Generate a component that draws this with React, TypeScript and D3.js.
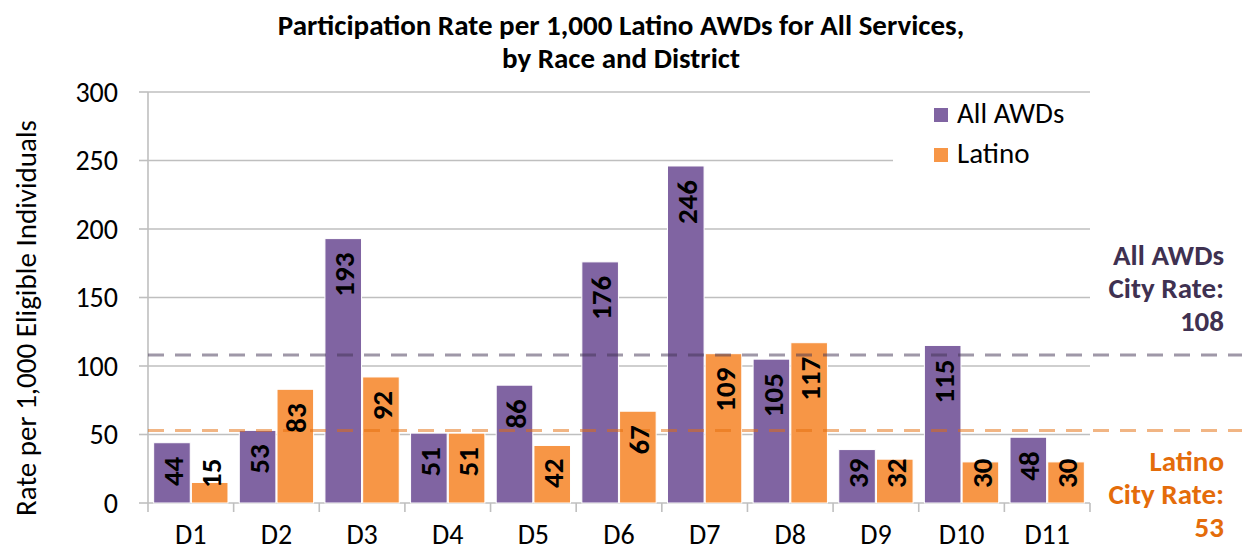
import React from 'react';
import { scaleBand, scaleLinear } from 'd3';

const districts = ['D1', 'D2', 'D3', 'D4', 'D5', 'D6', 'D7', 'D8', 'D9', 'D10', 'D11'];
const seriesNames = ['All AWDs', 'Latino'];
const allAwds = [44, 53, 193, 51, 86, 176, 246, 105, 39, 115, 48];
const latino = [15, 83, 92, 51, 42, 67, 109, 117, 32, 30, 30];
const yTicks = [0, 50, 100, 150, 200, 250, 300];
const cityRates = [108, 53];

const width = 1242;
const height = 552;
const margin = { top: 92, right: 152, bottom: 49, left: 148 };
const font = 'Calibri, Carlito, Lato, sans-serif';
const colors = ['#8064a2', '#f79646'];
const dashColors = ['#3f3151', '#e46c0a'];
const labelColors = ['#3f3151', '#e46c0a'];

const App = () => {
  const innerWidth = width - margin.left - margin.right;
  const innerHeight = height - margin.top - margin.bottom;

  const xScale = scaleBand().domain(districts).range([0, innerWidth]);
  const xInner = scaleBand()
    .domain(seriesNames)
    .range([0, xScale.bandwidth()])
    .paddingInner(0.03)
    .paddingOuter(0.15);
  const yScale = scaleLinear().domain([0, 300]).range([innerHeight, 0]);

  const values = [allAwds, latino];
  const labelSize = 29;
  const textLen = (v: number) => String(v).length * 14.7;

  return (
    <svg width={width} height={height} style={{ position: 'absolute', left: 0, top: 0 }} fontFamily={font}>
      <rect width={width} height={height} fill="#fff" />
      <text x={621} y={35} textAnchor="middle" fontSize={29} fontWeight="bold">
        Participation Rate per 1,000 Latino AWDs for All Services,
      </text>
      <text x={621} y={68} textAnchor="middle" fontSize={29} fontWeight="bold">
        by Race and District
      </text>
      <text
        transform={`translate(36, ${318}) rotate(-90)`}
        textAnchor="middle"
        fontSize={29}
      >
        Rate per 1,000 Eligible Individuals
      </text>
      <g transform={`translate(${margin.left}, ${margin.top})`}>
        {yTicks.map(t => (
          <g key={t}>
            {t > 0 && (
              <line x1={0} x2={innerWidth} y1={yScale(t)} y2={yScale(t)} stroke="#bfbfbf" strokeWidth={1.6} />
            )}
            <line x1={-9} x2={0} y1={yScale(t)} y2={yScale(t)} stroke="#bfbfbf" strokeWidth={1.6} />
            <text x={-30} y={yScale(t)} dy="0.35em" textAnchor="end" fontSize={28}>
              {t}
            </text>
          </g>
        ))}
        <line x1={0} x2={0} y1={0} y2={innerHeight} stroke="#bfbfbf" strokeWidth={1.6} />
        <line x1={0} x2={innerWidth} y1={innerHeight} y2={innerHeight} stroke="#bfbfbf" strokeWidth={1.6} />
        {districts.map(d => (
          <line
            key={'t' + d}
            x1={xScale(d)}
            x2={xScale(d)}
            y1={innerHeight}
            y2={innerHeight + 9}
            stroke="#bfbfbf"
            strokeWidth={1.6}
          />
        ))}
        <line x1={innerWidth} x2={innerWidth} y1={innerHeight} y2={innerHeight + 9} stroke="#bfbfbf" strokeWidth={1.6} />
        {districts.map(d => (
          <text
            key={'x' + d}
            x={(xScale(d) ?? 0) + xScale.bandwidth() / 2}
            y={innerHeight + 41}
            textAnchor="middle"
            fontSize={28}
          >
            {d}
          </text>
        ))}

        {/* legend background hides the gridline behind it */}
        <rect x={745} y={6} width={210} height={102} fill="#fff" />
        {seriesNames.map((s, si) => (
          <g key={s} transform={`translate(786, ${16 + si * 40})`}>
            <rect x={0} y={0} width={14} height={14} fill={colors[si]} />
            <text x={23} y={15} fontSize={29}>
              {s}
            </text>
          </g>
        ))}

        {districts.map((d, i) =>
          seriesNames.map((s, si) => (
            <rect
              key={d + s}
              x={(xScale(d) ?? 0) + (xInner(s) ?? 0)}
              y={yScale(values[si][i])}
              width={xInner.bandwidth()}
              height={innerHeight - yScale(values[si][i])}
              fill={colors[si]}
              stroke="#fff"
              strokeWidth={1}
            />
          ))
        )}

        {cityRates.map((r, ri) => (
          <line
            key={'c' + ri}
            x1={0}
            x2={width - margin.left}
            y1={yScale(r)}
            y2={yScale(r)}
            stroke={dashColors[ri]}
            strokeOpacity={0.5}
            strokeWidth={3}
            strokeDasharray="16 11"
          />
        ))}

        {districts.map((d, i) =>
          seriesNames.map((s, si) => {
            const v = values[si][i];
            const top = yScale(v);
            const start = Math.min(top + 14 + textLen(v), innerHeight - 15);
            const cx = (xScale(d) ?? 0) + (xInner(s) ?? 0) + xInner.bandwidth() / 2;
            return (
              <text
                key={'l' + d + s}
                transform={`translate(${cx + 1}, ${start}) rotate(-90)`}
                dy="0.35em"
                textAnchor="start"
                fontSize={labelSize}
                fontWeight="bold"
              >
                {v}
              </text>
            );
          })
        )}
      </g>

      {[['All AWDs', 'City Rate:', String(cityRates[0])], ['Latino', 'City Rate:', String(cityRates[1])]].map(
        (lines, gi) =>
          lines.map((ln, li) => (
            <text
              key={gi + '-' + li}
              x={1224}
              y={(gi === 0 ? 265 : 471) + li * 33}
              textAnchor="end"
              fontSize={29}
              fontWeight="bold"
              fill={labelColors[gi]}
            >
              {ln}
            </text>
          ))
      )}
    </svg>
  );
};

export default App;
